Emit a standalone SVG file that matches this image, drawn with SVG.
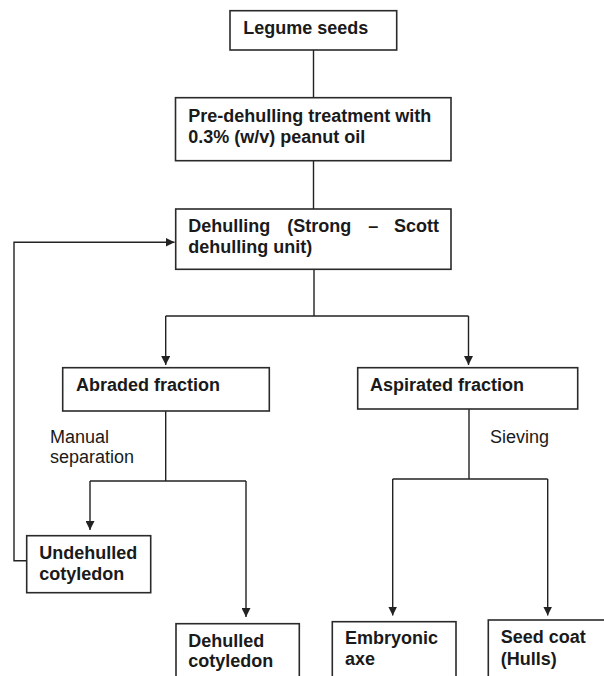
<svg xmlns="http://www.w3.org/2000/svg" width="604" height="676" viewBox="0 0 604 676">
<style>
.box{fill:#fff;stroke:#2a2a2a;stroke-width:1.6}
.t{font-family:"Liberation Sans",Arial,sans-serif;font-size:18px;font-weight:bold;fill:#1a1a1a}
.l{font-family:"Liberation Sans",Arial,sans-serif;font-size:18px;fill:#1a1a1a}
.c{fill:none;stroke:#222;stroke-width:1.4}
.a{marker-end:url(#arr)}
</style>
<defs>
<marker id="arr" markerUnits="userSpaceOnUse" markerWidth="9" markerHeight="9" viewBox="0 0 9 9" refX="9" refY="4.5" orient="auto">
<path d="M0,0 L9,4.5 L0,9 z" fill="#222"/>
</marker>
</defs>
<rect width="604" height="676" fill="#fff"/>
<g id="connectors">
<line class="c" x1="313.5" y1="50" x2="313.5" y2="97.7"/>
<line class="c" x1="313.5" y1="160.7" x2="313.5" y2="209"/>
<line class="c" x1="314" y1="269" x2="314" y2="316"/>
<line class="c" x1="165.7" y1="316" x2="468.5" y2="316"/>
<line class="c a" x1="165.7" y1="316" x2="165.7" y2="365"/>
<line class="c a" x1="468.5" y1="316" x2="468.5" y2="365"/>
<line class="c" x1="165.7" y1="411" x2="165.7" y2="481"/>
<line class="c" x1="90" y1="481" x2="246" y2="481"/>
<line class="c a" x1="90" y1="481" x2="90" y2="530"/>
<line class="c a" x1="246" y1="481" x2="246" y2="617"/>
<line class="c" x1="469" y1="409" x2="469" y2="479"/>
<line class="c" x1="392.7" y1="479" x2="547.7" y2="479"/>
<line class="c a" x1="392.7" y1="479" x2="392.7" y2="615.5"/>
<line class="c a" x1="547.7" y1="479" x2="547.7" y2="615.5"/>
<polyline class="c a" points="26.7,560.7 14,560.7 14,242.3 174.5,242.3"/>
</g>
<g id="legume">
<rect class="box" x="230" y="10.7" width="166.7" height="39.3"/>
<text class="t" x="243.3" y="34.3">Legume seeds</text>
</g>
<g id="predehulling">
<rect class="box" x="175.5" y="97.7" width="275.5" height="63"/>
<text class="t" x="188.3" y="122">Pre-dehulling treatment with</text>
<text class="t" x="188.3" y="142.7">0.3% (w/v) peanut oil</text>
</g>
<g id="dehulling">
<rect class="box" x="175.7" y="209" width="275.3" height="60.3"/>
<text class="t" y="231.7"><tspan x="188.3">Dehulling</tspan><tspan x="287.3">(Strong</tspan><tspan x="368.3">–</tspan><tspan x="394">Scott</tspan></text>
<text class="t" x="188.3" y="253.3">dehulling unit)</text>
</g>
<g id="abraded">
<rect class="box" x="62.7" y="367.7" width="206.6" height="43.3"/>
<text class="t" x="76" y="391">Abraded fraction</text>
</g>
<g id="aspirated">
<rect class="box" x="357.7" y="367.7" width="220" height="41.3"/>
<text class="t" x="370" y="391">Aspirated fraction</text>
</g>
<g id="labels">
<text class="l" x="50" y="442.7">Manual</text>
<text class="l" x="50" y="463.3">separation</text>
<text class="l" x="490" y="443.3">Sieving</text>
</g>
<g id="undehulled">
<rect class="box" x="26.7" y="535.7" width="124" height="57"/>
<text class="t" x="39.3" y="559.3">Undehulled</text>
<text class="t" x="39.3" y="580">cotyledon</text>
</g>
<g id="dehulled">
<rect class="box" x="176" y="623.7" width="123.3" height="60"/>
<text class="t" x="188.3" y="646.7">Dehulled</text>
<text class="t" x="188.3" y="666.7">cotyledon</text>
</g>
<g id="embryonic">
<rect class="box" x="332.3" y="621.7" width="123.7" height="62"/>
<text class="t" x="345" y="644">Embryonic</text>
<text class="t" x="345" y="665">axe</text>
</g>
<g id="seedcoat">
<rect class="box" x="488.3" y="620" width="125" height="64"/>
<text class="t" x="500.7" y="643.3">Seed coat</text>
<text class="t" x="500.7" y="665">(Hulls)</text>
</g>
</svg>
